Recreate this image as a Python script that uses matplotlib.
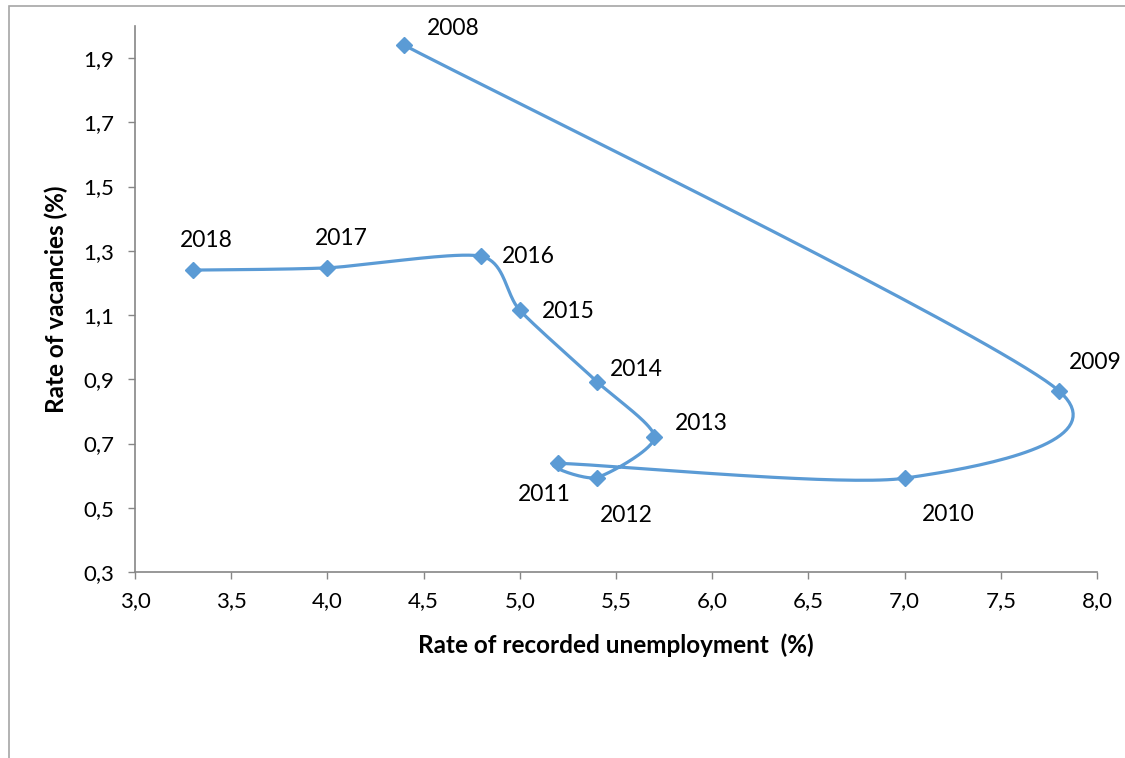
import numpy as np
import matplotlib.pyplot as plt
from matplotlib.patches import Rectangle
from matplotlib.ticker import FuncFormatter

plt.rcParams['font.family'] = ['Lato', 'DejaVu Sans']

# Data
years = ["2008", "2009", "2010", "2011", "2012", "2013",
         "2014", "2015", "2016", "2017", "2018"]
unemployment = [4.4, 7.8, 7.0, 5.2, 5.4, 5.7, 5.4, 5.0, 4.8, 4.0, 3.3]
vacancies = [1.94, 0.865, 0.592, 0.638, 0.594, 0.72, 0.893, 1.115, 1.283, 1.247, 1.24]

# label offsets in pixels (dx, dy) relative to each point
label_offsets = [(23, 17), (10, 28), (17, -36), (-40, -31), (3, -38), (20, 14),
                 (13, 12), (22, -1), (21, 0), (-13, 29), (-13, 30)]

color = "#5B9BD5"
axis_color = "#868686"

fig = plt.figure(figsize=(11.25, 7.58), dpi=100)
ax = fig.add_axes([0.12, 0.2454, 0.8551, 0.7203])

ax.set_xlim(3.0, 8.0)
ax.set_ylim(0.3, 2.0)


def limit(v, maxlen):
    L = np.hypot(*v)
    return v * (maxlen / L) if L > maxlen else v


# smoothed line like Excel's (cardinal spline in screen space)
fig.canvas.draw()
pts = ax.transData.transform(np.column_stack([unemployment, vacancies]))
k = 1 / 8.0
curve = []
n = len(pts)
for i in range(n - 1):
    p0 = pts[i - 1] if i > 0 else pts[i]
    p1 = pts[i]
    p2 = pts[i + 1]
    p3 = pts[i + 2] if i + 2 < n else pts[i + 1]
    d = np.hypot(*(p2 - p1))
    c1 = p1 + limit((p2 - p0) * k, 0.5 * d)
    c2 = p2 - limit((p3 - p1) * k, 0.5 * d)
    t = np.linspace(0, 1, 40)[:, None]
    seg = ((1 - t) ** 3) * p1 + 3 * ((1 - t) ** 2) * t * c1 + 3 * (1 - t) * t ** 2 * c2 + t ** 3 * p2
    curve.append(seg if i == 0 else seg[1:])
curve = ax.transData.inverted().transform(np.vstack(curve))

ax.plot(curve[:, 0], curve[:, 1], color=color, lw=2.3, solid_capstyle='round', zorder=2)
ax.plot(unemployment, vacancies, linestyle='none', marker='D', markersize=8,
        color=color, zorder=3)

for yr, x, y, (dx, dy) in zip(years, unemployment, vacancies, label_offsets):
    ax.annotate(yr, (x, y), xytext=(dx * 0.72, dy * 0.72), textcoords='offset points',
                ha='left', va='center', fontsize=16.5, color='black')

ax.set_xticks([3.0, 3.5, 4.0, 4.5, 5.0, 5.5, 6.0, 6.5, 7.0, 7.5, 8.0])
ax.set_yticks([0.3, 0.5, 0.7, 0.9, 1.1, 1.3, 1.5, 1.7, 1.9])
fmt = FuncFormatter(lambda v, p: f"{v:.1f}".replace('.', ','))
ax.xaxis.set_major_formatter(fmt)
ax.yaxis.set_major_formatter(fmt)
ax.tick_params(axis='both', direction='out', length=5, width=1, color=axis_color,
               labelsize=16, labelcolor='black')
ax.tick_params(axis='x', pad=9)
ax.tick_params(axis='y', pad=10)

for side in ['top', 'right']:
    ax.spines[side].set_visible(False)
for side in ['left', 'bottom']:
    ax.spines[side].set_color(axis_color)
    ax.spines[side].set_linewidth(1.2)

ax.set_xlabel("Rate of recorded unemployment  (%)", fontsize=17.5, fontweight='bold')
ax.set_ylabel("Rate of vacancies (%)", fontsize=17.5, fontweight='bold')
ax.xaxis.set_label_coords(0.5, -0.112)
ax.yaxis.set_label_coords(-0.07, 0.5)

# chart area border (extends past the cropped image)
fig.patches.append(Rectangle((9 / 1125, -0.1), 1.2, 1 - 6 / 758 + 0.1,
                             transform=fig.transFigure, fill=False,
                             edgecolor="#A6A6A6", lw=1.2))

fig.savefig("out.png", dpi=100)
